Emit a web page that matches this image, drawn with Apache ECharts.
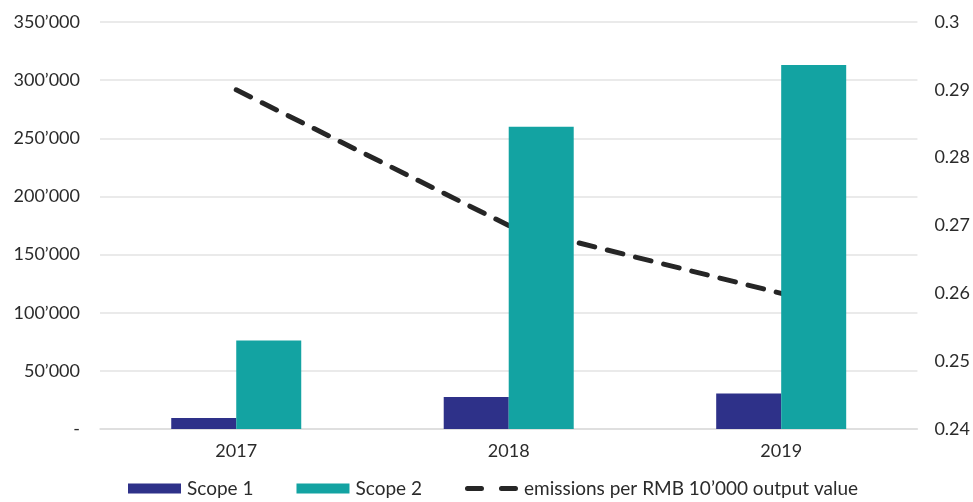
<!DOCTYPE html>
<html>
<head>
<meta charset="utf-8">
<script src="https://cdn.jsdelivr.net/npm/echarts@6/dist/echarts.min.js"></script>
<style>html,body{margin:0;padding:0;background:#fff}#c{width:973px;height:502px}</style>
</head>
<body>
<div id="c"></div>
<script>
var categories = ['2017', '2018', '2019'];
var scope1 = [9500, 27500, 30500];
var scope2 = [76000, 260000, 313000];
var intensity = [0.29, 0.27, 0.26];
var leftTicks = [0, 350000, 50000];
var rightTicks = [0.24, 0.3, 0.01];
var lineName = 'emissions per RMB 10\u2019000 output value';

function fmtThousands(v) {
  if (v === 0) return '-';
  return String(v).replace(/\B(?=(\d{3})+(?!\d))/g, '\u2019');
}

var dashIcon = 'path://M2.5,0h14a2.5,2.5 0 0 1 0,5h-14a2.5,2.5 0 0 1 0,-5z' +
  'M36.5,0h14a2.5,2.5 0 0 1 0,5h-14a2.5,2.5 0 0 1 0,-5z';

var chart = echarts.init(document.getElementById('c'));
chart.setOption({
  animation: false,
  textStyle: { fontFamily: 'Lato', color: '#2b2b2b' },
  grid: { left: 100, right: 55, top: 22, bottom: 73 },
  legend: {
    top: 479,
    left: 128,
    padding: 0,
    itemWidth: 53,
    itemHeight: 10,
    itemGap: 43,
    textStyle: { fontSize: 19, color: '#2b2b2b', fontFamily: 'Lato', padding: [0, 0, 0, 1] },
    data: [
      { name: 'Scope 1', icon: 'rect' },
      { name: 'Scope 2', icon: 'rect' },
      { name: lineName, icon: dashIcon, itemStyle: { color: '#262626' } }
    ]
  },
  xAxis: {
    type: 'category',
    data: categories,
    axisTick: { show: false },
    axisLine: { lineStyle: { color: '#dcdcdc', width: 1.5 } },
    axisLabel: { fontSize: 18, color: '#2b2b2b', margin: 13 }
  },
  yAxis: [
    {
      type: 'value',
      min: leftTicks[0], max: leftTicks[1], interval: leftTicks[2],
      axisLine: { show: false },
      axisTick: { show: false },
      splitLine: { lineStyle: { color: '#e3e3e3', width: 1.5 } },
      axisLabel: { fontSize: 18, color: '#2b2b2b', margin: 20, formatter: fmtThousands }
    },
    {
      type: 'value',
      min: rightTicks[0], max: rightTicks[1], interval: rightTicks[2],
      axisLine: { show: false },
      axisTick: { show: false },
      splitLine: { show: false },
      axisLabel: { fontSize: 18, color: '#2b2b2b', margin: 17,
        formatter: function (v) { return String(+v.toFixed(2)); } }
    }
  ],
  series: [
    {
      name: 'Scope 1', type: 'bar', data: scope1, barWidth: 65, barGap: '0%',
      itemStyle: { color: '#2E3189' }, z: 3
    },
    {
      name: 'Scope 2', type: 'bar', data: scope2, barWidth: 65,
      itemStyle: { color: '#13A3A2' }, z: 3
    },
    {
      name: lineName, type: 'line', yAxisIndex: 1,
      data: intensity, symbol: 'none', z: 1,
      lineStyle: { color: '#262626', width: 5, type: [16, 13], cap: 'round' },
      itemStyle: { color: '#262626' }
    }
  ]
});
</script>
</body>
</html>
